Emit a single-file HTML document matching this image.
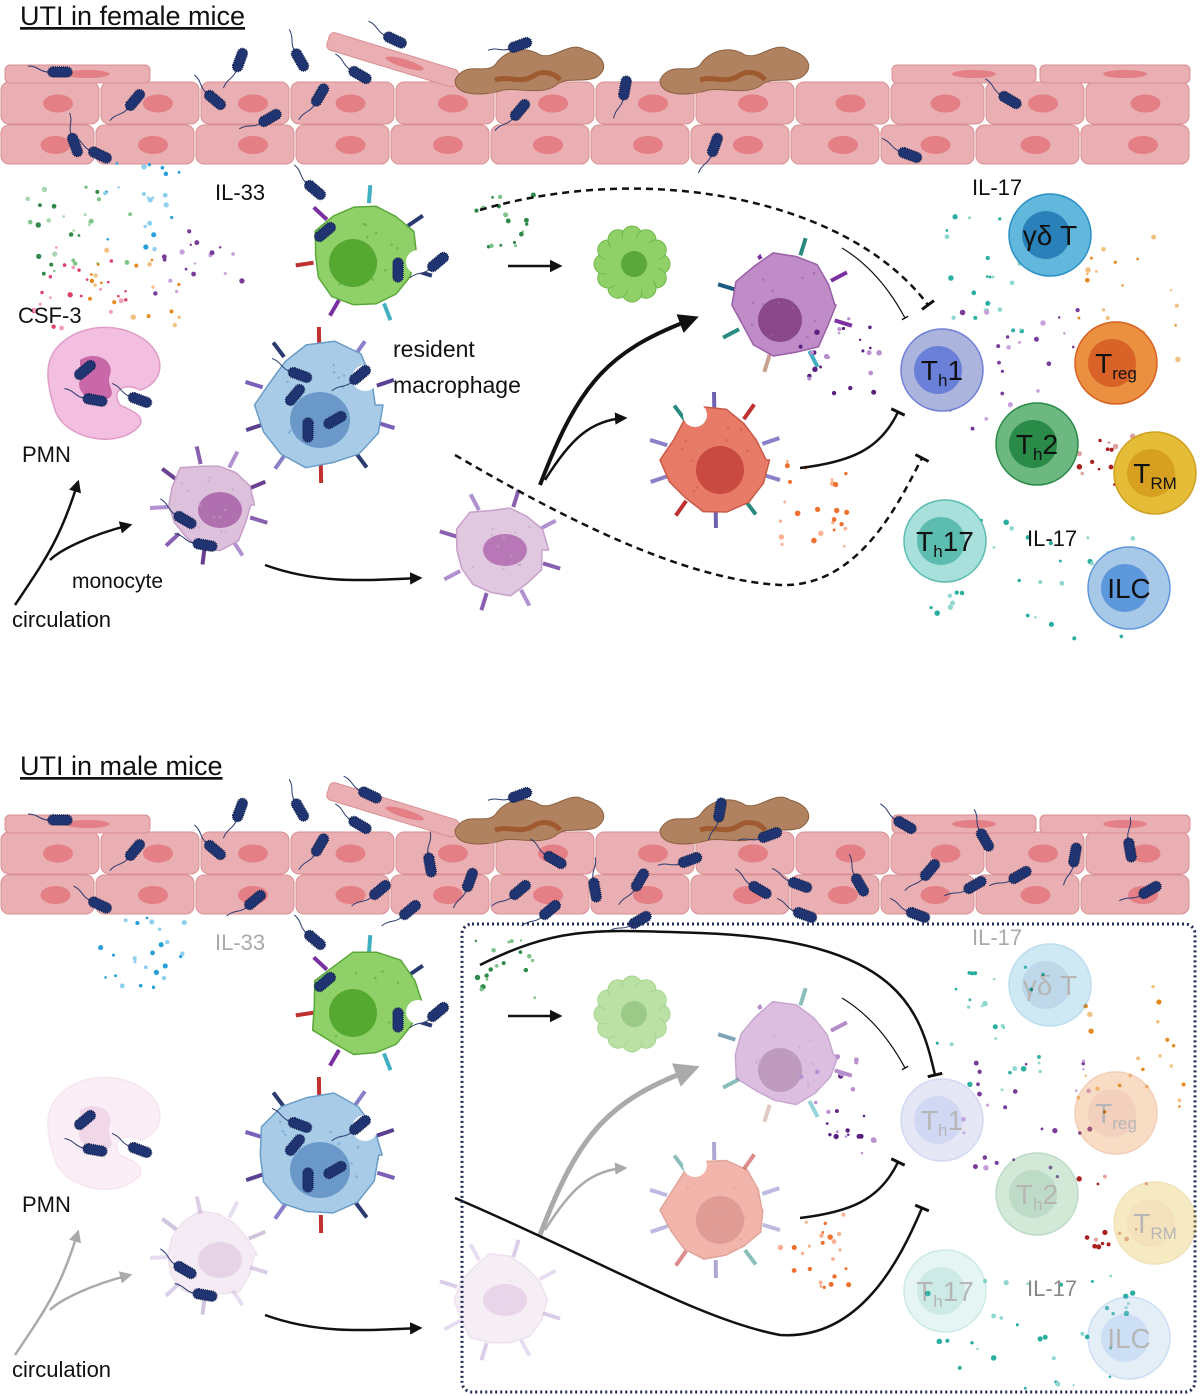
<!DOCTYPE html>
<html><head><meta charset="utf-8"><style>
html,body{margin:0;padding:0;background:#fff;width:1200px;height:1396px;overflow:hidden}
svg{display:block}
text{font-family:"Liberation Sans",sans-serif}
</style></head><body>
<svg id="s" width="1200" height="1396" viewBox="0 0 1200 1396" xmlns="http://www.w3.org/2000/svg">
<defs>
<marker id="ah" viewBox="0 0 10 10" refX="8" refY="5" markerWidth="5" markerHeight="5" orient="auto"><path d="M0,0L10,5L0,10z" fill="#111"/></marker>
<marker id="ahg" viewBox="0 0 10 10" refX="8" refY="5" markerWidth="5" markerHeight="5" orient="auto"><path d="M0,0L10,5L0,10z" fill="#aaa"/></marker>
<marker id="tb" viewBox="0 0 10 10" refX="5" refY="5" markerWidth="6" markerHeight="6" orient="auto"><path d="M5,0L5,10" stroke="#111" stroke-width="2"/></marker>
</defs>
<g id="top"></g>
<g id="bot" transform="translate(0,750)"></g>
</svg>
<script>
var NS="http://www.w3.org/2000/svg";
function el(p,t,a,txt){var e=document.createElementNS(NS,t);for(var k in a)e.setAttribute(k,a[k]);if(txt!==undefined)e.textContent=txt;p.appendChild(e);return e;}
var seed=7;function rnd(){seed=(seed*9301+49297)%233280;return seed/233280;}
function epi(g){
  var r1=[0,100,200,290,395,495,595,695,795,890,985,1085,1190],r2=[0,95,195,295,390,490,590,690,790,880,975,1080,1190];
  [[r1,82,125],[r2,125,165]].forEach(function(r){for(var i=0;i<r[0].length-1;i++){var x=r[0][i]+1,w=r[0][i+1]-r[0][i]-2;
    el(g,'rect',{x:x,y:r[1],width:w,height:r[2]-r[1]-1,rx:8,fill:'#eaafb2',stroke:'#d98f93','stroke-width':1});
    el(g,'ellipse',{cx:x+w/2+8,cy:(r[1]+r[2])/2,rx:15,ry:9,fill:'#e37f85'});}});
  [[5,150],[892,1036],[1040,1190]].forEach(function(u){el(g,'rect',{x:u[0],y:65,width:u[1]-u[0],height:18,rx:5,fill:'#eaafb2',stroke:'#d98f93'});el(g,'ellipse',{cx:(u[0]+u[1])/2+10,cy:74,rx:22,ry:4,fill:'#e37f85'});});
  var s=el(g,'g',{transform:'rotate(17 390 60)'});el(s,'rect',{x:325,y:50,width:135,height:18,rx:5,fill:'#eaafb2',stroke:'#d98f93'});el(s,'ellipse',{cx:405,cy:59,rx:20,ry:4,fill:'#e37f85'});
  [[515,65],[720,65]].forEach(function(b){var x=b[0],y=b[1];
    el(g,'path',{d:'M'+(x-60)+','+(y+15)+'c10,-20 30,-5 40,-15c10,-15 30,-20 45,-10c15,5 30,-15 45,-5c20,5 25,20 10,28c-15,5 -30,-2 -40,8c-15,10 -40,0 -55,5c-20,5 -45,5 -45,-11z',fill:'#b08260',stroke:'#8b6040'});
    el(g,'path',{d:'M'+(x-20)+','+(y+15)+'c15,-5 25,5 40,-5c8,-5 20,-2 25,5',stroke:'#a05a30','stroke-width':5,fill:'none'});
    el(g,'ellipse',{cx:x-25,cy:y+24,rx:8,ry:4,fill:'#b08260'});});
}
function bac(g,x,y,a,tl){var b=el(g,'g',{transform:'translate('+x+','+y+') rotate('+a+')'});
  if(tl!==false)el(b,'path',{d:'M-12,0c-8,0 -10,-6 -20,-6',stroke:'#2a3a70','stroke-width':1,fill:'none'});
  el(b,'rect',{x:-12,y:-5,width:24,height:10,rx:5,fill:'#1f3470',stroke:'#0f1f50','stroke-width':1.5,'stroke-dasharray':'1 1'});}
function dots(g,cx,cy,w,h,n,cols){for(var i=0;i<n;i++){el(g,'circle',{cx:cx+(rnd()-.5)*w,cy:cy+(rnd()-.5)*h,r:1.2+rnd()*1.6,fill:cols[Math.floor(rnd()*cols.length)]});}}
function blob(g,cx,cy,r,fill,stroke,nf,nuc,op){var d='',n=14;for(var i=0;i<=n;i++){var a=i/n*Math.PI*2,rr=r*(0.88+rnd()*0.18);d+=(i?'L':'M')+(cx+Math.cos(a)*rr).toFixed(1)+','+(cy+Math.sin(a)*rr).toFixed(1);}
  var gg=el(g,'g',{opacity:op||1});el(gg,'path',{d:d+'z',fill:fill,stroke:stroke,'stroke-width':1.5,'stroke-linejoin':'round'});
  if(nf)el(gg,'ellipse',{cx:cx+nuc[0],cy:cy+nuc[1],rx:nuc[2],ry:nuc[3],fill:nf});
  for(var j=0;j<12;j++)el(gg,'circle',{cx:cx+(rnd()-.5)*r*1.3,cy:cy+(rnd()-.5)*r*1.3,r:1.3,fill:stroke,opacity:.6});return gg;}
function recs(g,cx,cy,r,cols,n,op){var gg=el(g,'g',{opacity:op||1});for(var i=0;i<n;i++){var a=i/n*Math.PI*2+0.3;var x1=cx+Math.cos(a)*r,y1=cy+Math.sin(a)*r,x2=cx+Math.cos(a)*(r+18),y2=cy+Math.sin(a)*(r+18);
  el(gg,'line',{x1:x1,y1:y1,x2:x2,y2:y2,stroke:cols[i%cols.length],'stroke-width':4});}return gg;}
function tcell(g,cx,cy,o,i,s,lab,sub,tail,op,fs){var gg=el(g,'g',{opacity:op||1});
  el(gg,'circle',{cx:cx,cy:cy,r:41,fill:o,stroke:s,'stroke-width':1.5});el(gg,'circle',{cx:cx-4,cy:cy,r:24,fill:i});
  var t=el(gg,'text',{x:cx,y:cy+10,'font-size':fs||28,'text-anchor':'middle',fill:'#111'});
  el(t,'tspan',{},lab);if(sub){el(t,'tspan',{'font-size':17,dy:6},sub);}if(tail){el(t,'tspan',{dy:-6},tail);}}
function txt(g,x,y,s,fs,c){return el(g,'text',{x:x,y:y,'font-size':fs||22,fill:c||'#111'},s);}

function panel(g,male){
  var t=txt(g,20,25,male?'UTI in male mice':'UTI in female mice',27);t.setAttribute('text-decoration','underline');
  epi(g);
  var bs=male?[[60,70,0],[135,100,-50],[215,100,40],[240,60,-70],[300,60,60],[320,95,-60],[360,75,30],[380,140,-40],[430,115,80],[470,130,-70],[520,140,-40],[555,110,30],[595,140,80],[640,130,-60],[690,110,-20],[760,140,30],[800,135,20],[860,135,60],[905,75,30],[930,120,-50],[985,90,60],[1020,125,-30],[1075,105,-80],[1130,100,80],[1150,140,-30],[520,45,-20],[370,45,25],[720,60,-80],[770,85,-20],[100,155,25],[255,150,-40],[410,160,-40],[550,160,-40],[640,170,-30],[805,165,20],[918,165,20],[975,135,-30]]
   :[[60,72,0],[135,100,-50],[215,100,40],[240,60,-70],[300,60,60],[320,95,-60],[360,75,30],[270,118,-30],[75,145,70],[100,155,25],[395,40,25],[520,45,-20],[625,88,-80],[520,110,-50],[715,145,-70],[910,155,20],[1010,100,30]];
  bs.forEach(function(b){bac(g,b[0],b[1],b[2]);});
  bac(g,315,190,40);
  var l1=male?'#aaa':'#111';
  txt(g,215,200,'IL-33',22,l1);
  if(!male){dots(g,80,230,110,90,28,['#2f8a4a','#7cc488','#a8d8b0']);dots(g,150,205,100,90,22,['#2aa0d8','#8fd0ee']);dots(g,75,290,110,90,24,['#e0406a','#f0a0b8']);dots(g,140,300,100,100,22,['#e58a20','#f2c080']);dots(g,200,260,90,70,18,['#7a3c9a','#c8a0dc']);}
  else{dots(g,140,205,90,80,24,['#2aa0d8','#8fd0ee']);}
  if(!male)txt(g,18,323,'CSF-3',22);
  var pop=male?0.25:1;
  var pm=el(g,'g',{opacity:pop});el(pm,'path',{d:'M50,360c10,-30 60,-45 95,-20c25,20 15,45 -5,50c-15,-8 -30,0 -20,15c10,5 25,10 20,20c-20,25 -75,15 -85,-15c-5,-15 -10,-35 -5,-50z',fill:'#f2bfe0',stroke:'#e09cc8','stroke-width':1.5});
  el(pm,'path',{d:'M80,360c15,-10 35,0 30,15c-5,10 10,20 -5,25c-15,5 -30,-10 -25,-20z',fill:'#c868a8'});
  bac(g,85,370,-40,false);bac(g,95,400,10);bac(g,140,400,20);
  txt(g,22,462,'PMN',22);
  el(g,'path',{d:'M15,605C45,560 60,540 78,482',stroke:male?'#aaa':'#111','stroke-width':2.5,fill:'none','marker-end':male?'url(#ahg)':'url(#ah)'});
  el(g,'path',{d:'M50,560C60,550 90,535 130,525',stroke:male?'#aaa':'#111','stroke-width':2.5,fill:'none','marker-end':male?'url(#ahg)':'url(#ah)'});
  var mop=male?0.3:1;
  recs(g,210,505,42,['#8a60b0','#b090d0','#6a4090'],9,mop);
  blob(g,210,505,45,'#dcc0dc','#c8a0c8','#b070b0',[10,5,22,18],mop);
  bac(g,185,520,30);bac(g,205,545,10);
  if(!male)txt(g,72,588,'monocyte',21);
  txt(g,12,627,'circulation',22);
  el(g,'path',{d:'M265,565C320,585 370,580 420,578',stroke:'#111','stroke-width':2.5,fill:'none','marker-end':'url(#ah)'});
  var m2op=male?0.3:1;
  recs(g,500,550,45,['#8a60b0','#b090d0'],8,m2op);
  blob(g,500,550,46,'#e0c8e0','#c8a0c8','#b878b8',[5,0,22,16],m2op);
  recs(g,365,255,52,['#2a3a70','#40b0c0','#7a30a0','#c03030','#7a30a0','#40b0c0'],7);
  blob(g,365,255,55,'#8fd068','#5aa83a','#55a830',[-12,8,24,24]);
  el(g,'circle',{cx:418,cy:262,r:12,fill:'#fff'});
  bac(g,325,232,-40,false);bac(g,398,270,90,false);bac(g,438,262,-40);
  recs(g,320,405,60,['#7a60b8','#2a3a70','#c03030','#8a80c8','#5a4090'],10);
  blob(g,320,405,62,'#a8cce8','#6a9cc8','#6a98c8',[0,15,30,28]);
  el(g,'circle',{cx:365,cy:378,r:13,fill:'#fff'});
  bac(g,295,395,-50,false);bac(g,308,430,90,false);bac(g,335,420,-30,false);bac(g,360,375,-40);bac(g,300,375,20);
  if(!male){txt(g,393,357,'resident',23);txt(g,393,393,'macrophage',23);}
  dots(g,505,220,60,60,18,['#2f8a4a','#7cc488']);
  el(g,'line',{x1:508,y1:266,x2:560,y2:266,stroke:'#111','stroke-width':2.5,'marker-end':'url(#ah)'});
  var dg=el(g,'g',{opacity:male?0.6:1});
  for(var i=0;i<12;i++){var a=i/12*6.283;el(dg,'circle',{cx:632+Math.cos(a)*28,cy:264+Math.sin(a)*28,r:10,fill:'#8fd068',stroke:'#6ab848'});}
  el(dg,'circle',{cx:632,cy:264,r:27,fill:'#8fd068'});el(dg,'circle',{cx:634,cy:264,r:13,fill:'#5aa83a'});
  var dop=male?0.55:1;
  recs(g,785,305,52,['#7a30a0','#40b0c0','#c8a090','#2a8a80','#1a5a80','#7a30a0','#2a8a80'],8,dop);
  blob(g,785,305,52,'#c08cc8','#9a60a8','#8a4888',[-5,15,22,22],dop);
  el(g,'circle',{cx:752,cy:248,r:10,fill:'#fff'});
  dots(g,840,355,80,100,24,['#5a2080','#b890d0']);
  var rop=male?0.55:1;
  recs(g,715,460,50,['#8a80c8','#2a8a80','#7060b0','#c03030','#8a80c8'],10,rop);
  blob(g,715,460,52,'#e87a68','#c85a48','#c84a40',[5,10,24,24],rop);
  el(g,'circle',{cx:695,cy:415,r:12,fill:'#fff'});
  dots(g,815,505,70,90,24,['#f07030','#f8b090']);
  var ac=male?'#aaa':'#111',am=male?'url(#ahg)':'url(#ah)';
  el(g,'path',{d:'M540,485C580,380 610,350 695,318',stroke:ac,'stroke-width':male?5:4,fill:'none','marker-end':am});
  el(g,'path',{d:'M545,480C570,440 590,420 625,418',stroke:ac,'stroke-width':2.5,fill:'none','marker-end':am});
  if(!male){
    el(g,'path',{d:'M480,210C650,160 850,200 928,305',stroke:'#111','stroke-width':2.5,fill:'none','stroke-dasharray':'7 5','marker-end':'url(#tb)'});
    el(g,'path',{d:'M455,455C600,540 700,580 780,585C860,588 900,500 922,458',stroke:'#111','stroke-width':2.5,fill:'none','stroke-dasharray':'7 5','marker-end':'url(#tb)'});
  } else {
    el(g,'path',{d:'M480,215C560,175 600,180 700,183C900,190 920,260 935,325',stroke:'#111','stroke-width':2.5,fill:'none','marker-end':'url(#tb)'});
    el(g,'path',{d:'M455,448C600,510 700,570 780,585C860,590 900,510 922,458',stroke:'#111','stroke-width':2.5,fill:'none','marker-end':'url(#tb)'});
    el(g,'rect',{x:462,y:174,width:733,height:468,rx:10,fill:'none',stroke:'#1f2a55','stroke-width':3,'stroke-dasharray':'2 3'});
  }
  el(g,'path',{d:'M842,248C870,265 890,290 905,318',stroke:'#111','stroke-width':1.2,fill:'none','marker-end':'url(#tb)'});
  el(g,'path',{d:'M800,468C850,462 880,450 898,412',stroke:'#111','stroke-width':2.5,fill:'none','marker-end':'url(#tb)'});
  dots(g,990,275,110,130,26,['#2aaea0','#90d8d0']);dots(g,1130,300,110,130,22,['#e58a20','#f2c080']);
  dots(g,1020,370,140,120,26,['#7a3c9a','#c8a0dc']);dots(g,1110,460,80,80,14,['#a82020','#e0a0a0']);
  dots(g,1030,580,210,120,34,['#2aaea0','#90d8d0']);
  var top=male?0.3:1;
  tcell(g,1050,235,'#62b8dc','#2a80b8','#2a90c8','γδ T',null,null,top);
  tcell(g,942,370,'#aab4dc','#6a80d8','#7080d8','T','h','1',top);
  tcell(g,1116,363,'#eb9040','#d86228','#d86020','T','reg',null,top);
  tcell(g,1037,444,'#6cb880','#2a8a48','#2a8a48','T','h','2',top);
  tcell(g,1155,473,'#e4bc38','#d8a020','#d0a020','T','RM',null,top);
  tcell(g,945,541,'#a8e0dc','#5cbcb0','#5cbcb0','T','h','17',top);
  tcell(g,1129,588,'#a8c8e8','#5e98dc','#5e98dc','ILC',null,null,top);
  txt(g,972,195,'IL-17',22,male?'#aaa':'#111');txt(g,1027,546,'IL-17',22,male?'#888':'#111');
}
panel(document.getElementById('top'),false);
seed=11;
panel(document.getElementById('bot'),true);
</script>
</body></html>
